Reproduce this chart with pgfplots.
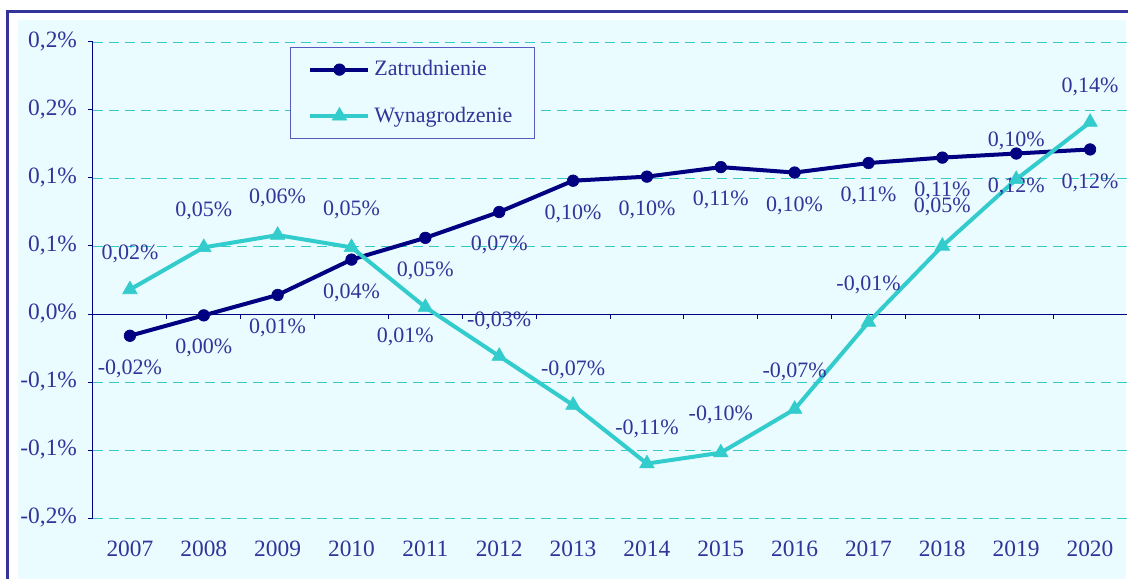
\documentclass[border=0pt]{standalone}
\usepackage{fontspec}
\setmainfont{Liberation Serif}
\usepackage{pgfplots}
\pgfplotsset{compat=1.18}
\usepackage{pgfplotstable}

\definecolor{navy}{RGB}{0,0,128}
\definecolor{turq}{RGB}{51,204,204}
\definecolor{txt}{RGB}{51,51,153}
\definecolor{framecol}{RGB}{51,51,153}
\definecolor{chartbg}{RGB}{234,252,255}
\definecolor{legframe}{RGB}{90,90,190}

% x  value  label  label shift (pt)
\pgfplotstableread{
x    y       lab          dx    dy
2007 -0.016  {-0,02\%}    0     -16.5
2008 -0.001  {0,00\%}     0     -16.5
2009  0.014  {0,01\%}     0     -16.5
2010  0.040  {0,04\%}     0     -16.5
2011  0.056  {0,05\%}     0     -16.5
2012  0.075  {0,07\%}     0     -16.5
2013  0.098  {0,10\%}     0     -16.5
2014  0.101  {0,10\%}     0     -16.5
2015  0.108  {0,11\%}     0     -16.5
2016  0.104  {0,10\%}     0     -16.5
2017  0.111  {0,11\%}     0     -16.5
2018  0.115  {0,11\%}     0     -16.5
2019  0.118  {0,12\%}     0     -16.5
2020  0.121  {0,12\%}     0     -16.5
}\zatr

\pgfplotstableread{
x    y       lab          dx    dy
2007  0.018  {0,02\%}     0     18
2008  0.049  {0,05\%}     0     18
2009  0.058  {0,06\%}     0     18.5
2010  0.049  {0,05\%}     0     18.5
2011  0.005  {0,01\%}     -10   -15
2012 -0.031  {-0,03\%}    0     17.5
2013 -0.067  {-0,07\%}    0     17.5
2014 -0.110  {-0,11\%}    0     17.5
2015 -0.102  {-0,10\%}    0     19
2016 -0.070  {-0,07\%}    0     18.5
2017 -0.006  {-0,01\%}    0     18.5
2018  0.050  {0,05\%}     0     19.5
2019  0.099  {0,10\%}     0     19
2020  0.141  {0,14\%}     0     17.5
}\wyn

\pgfplotsset{
    datalabels/.style={
        nodes near coords,
        point meta=explicit symbolic,
        visualization depends on={\thisrow{dx} \as \dx},
        visualization depends on={\thisrow{dy} \as \dy},
        every node near coord/.append style={anchor=center, xshift=\dx pt, yshift=\dy pt,
            font=\fontsize{11}{13}\selectfont, text=txt},
    },
}

\begin{document}
\begin{tikzpicture}
\path[use as bounding box] (-46.5pt,-30pt) rectangle (517.5pt,259pt);
\fill[chartbg] (-37.5pt,-31pt) rectangle (516.5pt,249pt);
\draw[framecol, line width=1.5pt] (-42.5pt,-31pt) -- (-42.5pt,253.25pt) -- (518pt,253.25pt);

\begin{axis}[
    at={(0pt,0pt)}, anchor=south west,
    scale only axis,
    width=517pt, height=238pt,
    xmin=2006.5, xmax=2020.5,
    ymin=-0.15, ymax=0.2,
    clip=false,
    axis y line*=left,
    axis x line*=bottom,
    x axis line style={draw=none},
    y axis line style={navy, line width=0.5pt},
    xtick={2007,...,2020},
    x tick label style={/pgf/number format/1000 sep=, yshift=-5.5pt},
    x tick style={draw=none},
    ytick={-0.15,-0.1,-0.05,0,0.05,0.1,0.15,0.2},
    yticklabels={{-0,2\%},{-0,1\%},{-0,1\%},{0,0\%},{0,1\%},{0,1\%},{0,2\%},{0,2\%}},
    y tick label style={xshift=-2pt},
    y tick style={navy, line width=0.5pt},
    tick align=outside,
    major tick length=2.5pt,
    ymajorgrids,
    grid style={turq, line width=0.4pt, dash pattern=on 5pt off 3pt},
    tick label style={font=\fontsize{11.7}{13}\selectfont, text=txt},
    /pgf/number format/assume math mode=true,
    legend style={at={(0.1905,0.9895)}, anchor=north west,
        draw=legframe, line width=0.5pt, fill=chartbg,
        font=\fontsize{11}{13}\selectfont, text=txt,
        row sep=10pt, inner xsep=9pt, inner ysep=4.5pt},
    legend cell align=left,
    legend image code/.code={
        \draw[mark repeat=2, mark phase=2] plot coordinates {(0pt,0pt) (14.5pt,0pt) (29pt,0pt)};},
]
\draw[navy, line width=0.5pt] (axis cs:2006.5,0) -- (axis cs:2020.5,0);
\pgfplotsinvokeforeach{2007,...,2019}{
    \draw[navy, line width=0.5pt] (axis cs:#1.5,0) -- ++(0pt,-2.5pt);
}
\addplot[navy, line width=2pt, mark=*, mark size=2.9pt,
    mark options={fill=navy, line width=0.3pt}, datalabels]
    table[x=x, y=y, meta=lab] {\zatr};
\addlegendentry{Zatrudnienie}
\addplot[turq, line width=2pt, mark=triangle*, mark size=4.2pt,
    mark options={fill=turq, line width=0.3pt}, datalabels]
    table[x=x, y=y, meta=lab] {\wyn};
\addlegendentry{Wynagrodzenie}
\end{axis}
\end{tikzpicture}
\end{document}
